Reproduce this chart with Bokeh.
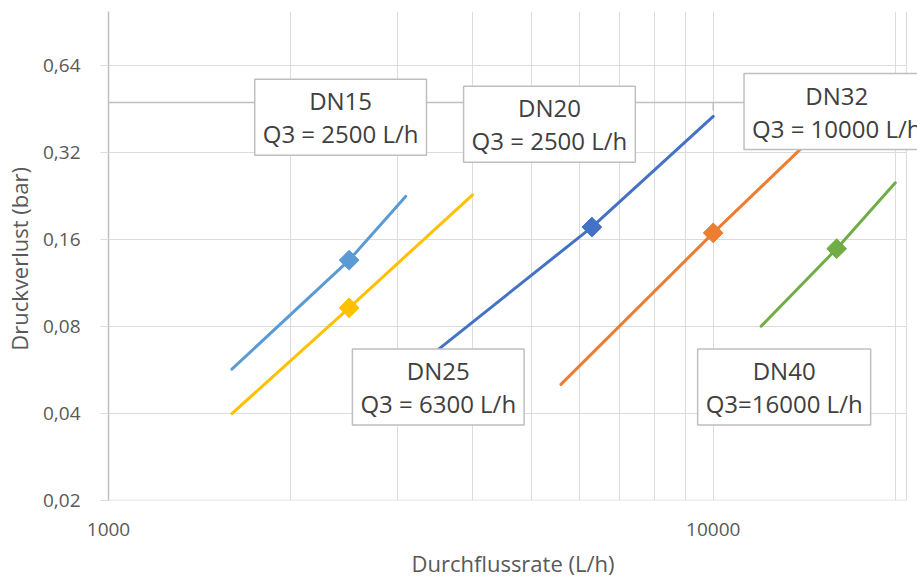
import numpy as np
from bokeh.plotting import figure
from bokeh.models import FixedTicker, CustomJSTickFormatter, Label, Range1d
from bokeh.embed import file_html
from bokeh.resources import INLINE

# ---- data (flow in L/h, pressure loss in bar) ----
flow_dn15 = [1600, 2500, 3100]
loss_dn15 = [0.057, 0.136, 0.226]
flow_dn20 = [1600, 2500, 4000]
loss_dn20 = [0.040, 0.093, 0.229]
flow_dn25 = [3150, 6300, 10000]
loss_dn25 = [0.0557, 0.177, 0.428]
flow_dn32 = [5600, 10000, 16000]
loss_dn32 = [0.0505, 0.169, 0.435]
flow_dn40 = [12000, 16000, 20000]
loss_dn40 = [0.0803, 0.149, 0.252]

series_flows = [flow_dn15, flow_dn20, flow_dn25, flow_dn32, flow_dn40]
series_losses = [loss_dn15, loss_dn20, loss_dn25, loss_dn32, loss_dn40]
series_colors = ["#5B9BD5", "#FFC000", "#4472C4", "#ED7D31", "#70AD47"]

x_major_ticks = [1000, 10000]
x_minor_ticks = [2000, 3000, 4000, 5000, 6000, 7000, 8000, 9000, 20000]
y_ticks = [0.02, 0.04, 0.08, 0.16, 0.32, 0.64]
X_MIN, X_EDGE, X_VIEW = 1000, 20870, 21766   # axis end, and visible canvas end
Y_MIN, Y_MAX = 0.02, 0.988

# secondary axis line (drawn in original chart)
sec_axis_loss = 0.478
sec_axis_tick_flow = 10000
sec_axis_tick_end = 0.448

label_texts = ["DN15\nQ3 = 2500 L/h", "DN20\nQ3 = 2500 L/h", "DN32\nQ3 = 10000 L/h",
               "DN25\nQ3 = 6300 L/h", "DN40\nQ3=16000 L/h"]
label_flow = [2420, 5360, 16005, 3510, 13100]
label_loss = [0.425, 0.402, 0.445, 0.0494, 0.0494]

GRID = "#DCDCDC"
TXT = "#595959"
FONT = "Open Sans"

p = figure(width=917, height=580, x_axis_type="log", y_axis_type="log",
           x_range=Range1d(X_MIN, X_VIEW), y_range=Range1d(Y_MIN, Y_MAX),
           output_backend="svg", toolbar_location=None,
           min_border_left=104, min_border_right=0, min_border_top=11, min_border_bottom=80)
p.outline_line_color = None
p.background_fill_color = "white"
p.border_fill_color = "white"

# x axis
p.xaxis.ticker = FixedTicker(ticks=x_major_ticks, minor_ticks=x_minor_ticks)
p.xaxis.formatter = CustomJSTickFormatter(code="return tick.toFixed(0)")
p.xaxis.axis_line_color = None
p.xaxis.major_tick_line_color = None
p.xaxis.minor_tick_line_color = None
p.xaxis.major_tick_out = 0
p.xaxis.major_tick_in = 0
p.xaxis.minor_tick_out = 0
p.xaxis.minor_tick_in = 0
p.xaxis.major_label_standoff = 22
p.xaxis.major_label_text_font = FONT
p.xaxis.major_label_text_font_size = "19px"
p.xaxis.major_label_text_color = TXT
p.xaxis.axis_label = "Durchflussrate (L/h)"
p.xaxis.axis_label_text_font = FONT
p.xaxis.axis_label_text_font_size = "22px"
p.xaxis.axis_label_text_font_style = "normal"
p.xaxis.axis_label_text_color = TXT
p.xaxis.axis_label_standoff = 9

# y axis
p.yaxis.ticker = FixedTicker(ticks=y_ticks, minor_ticks=[])
p.yaxis.formatter = CustomJSTickFormatter(code="return tick.toFixed(2).replace('.', ',')")
p.yaxis.axis_line_color = "#BFBFBF"
p.yaxis.axis_line_width = 1.5
p.yaxis.major_tick_line_color = GRID
p.yaxis.major_tick_out = 8
p.yaxis.major_tick_in = 0
p.yaxis.minor_tick_line_color = None
p.yaxis.major_label_standoff = 20
p.yaxis.major_label_text_font = FONT
p.yaxis.major_label_text_font_size = "19px"
p.yaxis.major_label_text_color = TXT
p.yaxis.axis_label = "Druckverlust  (bar)"
p.yaxis.axis_label_text_font = FONT
p.yaxis.axis_label_text_font_size = "22px"
p.yaxis.axis_label_text_font_style = "normal"
p.yaxis.axis_label_text_color = TXT
p.yaxis.axis_label_standoff = 6

# grids
p.xgrid.grid_line_color = GRID
p.xgrid.minor_grid_line_color = GRID
p.ygrid.grid_line_color = GRID

# blank the strip right of the plot area (beyond the axis end)
p.quad(left=[X_EDGE], right=[X_VIEW], bottom=[Y_MIN], top=[Y_MAX],
       fill_color="white", line_color=None)
# bottom axis line and right plot edge
p.segment(x0=[X_MIN], y0=[Y_MIN], x1=[X_EDGE], y1=[Y_MIN], line_color=GRID, line_width=1.5)
p.segment(x0=[X_EDGE], y0=[Y_MIN], x1=[X_EDGE], y1=[Y_MAX], line_color=GRID, line_width=1)

# secondary axis line with tick
p.segment(x0=[X_MIN], y0=[sec_axis_loss], x1=[X_EDGE], y1=[sec_axis_loss],
          line_color="#BFBFBF", line_width=1.5)
p.segment(x0=[sec_axis_tick_flow], y0=[sec_axis_loss], x1=[sec_axis_tick_flow], y1=[sec_axis_tick_end],
          line_color="#BFBFBF", line_width=1.5)

# series
for fl, ls, c in zip(series_flows, series_losses, series_colors):
    p.line(fl, ls, line_color=c, line_width=3, line_cap="round")
    p.scatter([fl[1]], [ls[1]], marker="square", angle=np.pi / 4, size=14,
              fill_color=c, line_color=c)

# labels
for t, lx, ly in zip(label_texts, label_flow, label_loss):
    p.add_layout(Label(x=lx, y=ly, text=t, text_align="center", text_baseline="middle",
                       text_font=FONT, text_font_size="24px", text_color="#404040",
                       text_line_height=1.0,
                       background_fill_color="white", border_line_color="#BFBFBF",
                       border_line_width=1.5,
                       padding=dict(left=8, right=8, top=5, bottom=5)))

open("out.html", "w").write(file_html(p, INLINE))
